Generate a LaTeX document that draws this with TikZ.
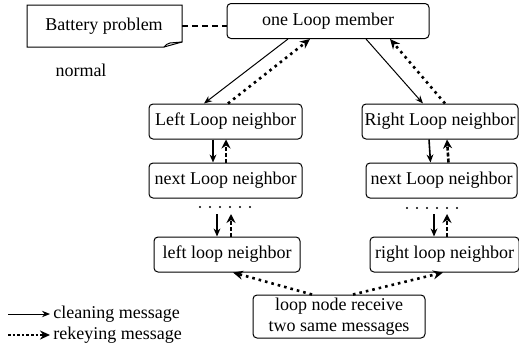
\documentclass[tikz,border=0pt]{standalone}
\usepackage{fontspec}
\setmainfont{Liberation Serif}
\usetikzlibrary{arrows.meta}

\tikzset{
  box/.style={draw, rounded corners=2pt, line width=0.5pt, inner sep=0pt,
    minimum height=17.5pt, align=center, font=\fontsize{9}{10.5}\selectfont},
  txt/.style={inner sep=0pt, font=\fontsize{9}{10.5}\selectfont},
  clean/.style={-{Stealth[length=4pt,width=3.2pt]}, line width=0.5pt},
  cleanv/.style={-{Stealth[length=4pt,width=3.4pt]}, line width=0.8pt},
  rekey/.style={-{Stealth[length=5pt,width=4.5pt]}, line width=1.3pt, dotted},
  rekeyv/.style={-{Stealth[length=4.5pt,width=4.5pt]}, line width=1.3pt, dash pattern=on 2pt off 1pt}
}

\begin{document}
\begin{tikzpicture}[x=0.5pt,y=-0.5pt]
\useasboundingbox (0,0) rectangle (519,348);

% ===== Boxes =====
\node[box, minimum width=101pt] (member) at (328,21) {one Loop member};

\node[box, minimum width=76.5pt] (lfirst) at (225.5,121.5) {Left Loop neighbor};
\node[box, minimum width=76.5pt] (lnext) at (225.5,180.5) {next Loop neighbor};
\node[box, minimum width=73pt] (llast) at (227,254.5) {left loop neighbor};

\node[box, minimum width=78pt] (rfirst) at (440,121.5) {Right Loop neighbor};
\node[box, minimum width=75.5pt] (rnext) at (441.5,180.5) {next Loop neighbor};
\node[box, minimum width=74.5pt] (rlast) at (444.5,254.5) {right loop neighbor};

\node[box, minimum width=86pt, minimum height=21.5pt] (recv) at (339,316.5) {loop node receive\\two same messages};

% ===== Note =====
\draw[line width=0.5pt] (27,5) -- (182,5) -- (182,42) -- (164,47) -- (27,47) -- cycle;
\draw[line width=0.5pt] (164,47) .. controls (167,44) .. (170,43) -- (182,42);
\node[txt, minimum width=77.5pt, minimum height=21pt] (battery) at (104,26) {Battery problem};
\node[txt] (normal) at (81,70) {normal};

\draw[line width=0.7pt, dash pattern=on 3pt off 2pt] (battery.east) -- (battery.east -| member.west);

% ===== Member <-> first neighbors =====
\draw[clean] ([xshift=-20pt]member.south) -- ([xshift=-10.75pt]lfirst.north);
\draw[rekey] ([xshift=1.25pt]lfirst.north) -- ([xshift=-9pt]member.south);

\draw[clean] ([xshift=19pt]member.south) -- ([xshift=-8.5pt]rfirst.north);
\draw[rekey] ([xshift=2.5pt]rfirst.north) -- ([xshift=31pt]member.south);

% ===== Down the chains =====
\draw[cleanv] ([xshift=-6.25pt]lfirst.south) -- ([xshift=-6.25pt]lnext.north);
\draw[rekeyv] ([xshift=0.25pt]lnext.north) -- ([xshift=0.25pt]lfirst.south);

\draw[cleanv] ([xshift=-5.5pt]rfirst.south) -- ([xshift=-5.5pt]rnext.north);
\draw[rekeyv] ([xshift=3.5pt]rnext.north) -- ([xshift=3.5pt]rfirst.south);

\foreach \i in {0,...,5} {
    \fill (200+\i*10,207) circle (0.6pt);
    \fill (407+\i*10,208) circle (0.6pt);
}

\coordinate (lgap) at (225,214);
\coordinate (rgap) at (440,214);

\draw[cleanv] ([xshift=-4pt]lgap) -- ([xshift=-5pt]llast.north);
\draw[rekeyv] ([xshift=2pt]llast.north) -- ([xshift=3pt]lgap);

\draw[cleanv] ([xshift=-3pt]rgap) -- ([xshift=-5.25pt]rlast.north);
\draw[rekeyv] ([xshift=1.25pt]rlast.north) -- ([xshift=3.5pt]rgap);

% ===== Receiver =====
\draw[rekey] ([xshift=-13.5pt]recv.north) -- ([xshift=3pt]llast.south);
\draw[rekey] ([xshift=7pt]recv.north) -- ([xshift=-0.75pt]rlast.south);

% ===== Legend =====
\node[txt, anchor=west] (lgclean) at (53,314) {cleaning message};
\node[txt, anchor=west] (lgrekey) at (53,335) {rekeying message};
\coordinate (lcs) at (8,314);
\coordinate (lrs) at (8,335);
\draw[clean, shorten >=1.5pt] (lcs) -- (lgclean.west);
\draw[rekey, shorten >=1.5pt, dash pattern=on 1.3pt off 1pt] (lrs) -- (lgrekey.west);

\end{tikzpicture}
\end{document}
